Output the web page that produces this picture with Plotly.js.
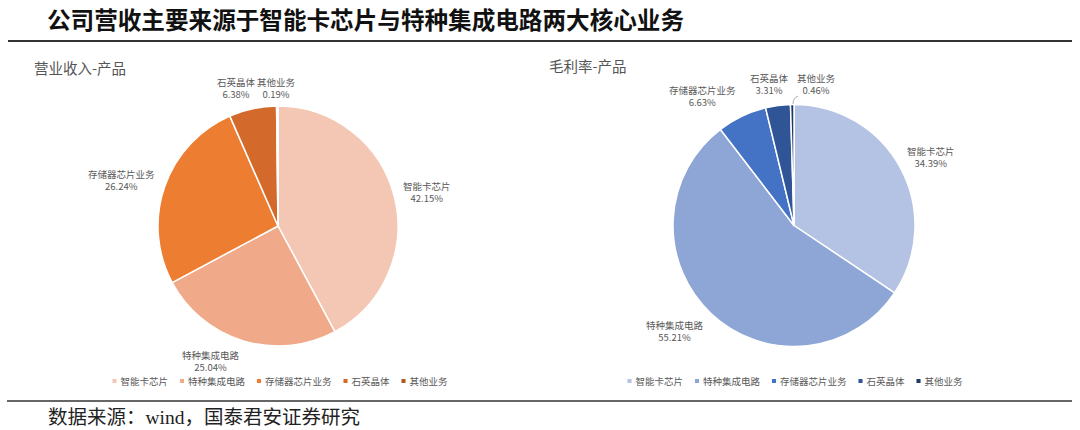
<!DOCTYPE html>
<html>
<head>
<meta charset="utf-8">
<script src="https://cdn.plot.ly/plotly-3.0.1.min.js"></script>
<style>
  html, body { margin: 0; padding: 0; background: #fff; }
  #wrap { position: relative; width: 1080px; height: 430px; }
  #chart { position: absolute; left: 0; top: 0; width: 1080px; height: 430px; }
  #chart2 { position: absolute; left: 540px; top: 0; width: 540px; height: 430px; background: transparent; }
</style>
</head>
<body>
<div id="wrap"><div id="chart"></div><div id="chart2"></div></div>
<script>
// ---- data ----
var categories = ['智能卡芯片', '特种集成电路', '存储器芯片业务', '石英晶体', '其他业务'];
var revenueShare = [42.15, 25.04, 26.24, 6.38, 0.19];   // 营业收入-产品 (%)
var grossShare   = [34.39, 55.21, 6.63, 3.31, 0.46];    // 毛利率-产品 (%)
var chartTitle = '公司营收主要来源于智能卡芯片与特种集成电路两大核心业务';
var leftSubtitle = '营业收入-产品';
var rightSubtitle = '毛利率-产品';
var sourceText = '数据来源：wind，国泰君安证券研究';

// ---- styles / layout helpers ----
var W = 1080, H = 430, W2 = 540, OFF2 = 540;
function px(x) { return x / W; }
function px2(x) { return (x - OFF2) / W2; }
function py(y) { return 1 - y / H; }
var cjk = '"Noto Sans CJK SC", "Noto Sans", sans-serif';
var orangeColors = ['#F4C7B5', '#F0AA8A', '#ED7D31', '#D36A2B', '#B35A1F'];
var blueColors   = ['#B4C2E3', '#8EA6D6', '#4472C4', '#2F5597', '#203864'];
// label block centres (pixels) for each category, in category order
var leftLabelPos  = [[427, 192], [211, 361], [121, 180], [236, 88], [276, 88]];
var rightLabelPos = [[931, 157], [675, 331], [702, 96], [769, 84], [816, 84]];

function pieTrace(values, colors, dom) {
  return {
    type: 'pie',
    labels: categories,
    values: values,
    sort: false,
    direction: 'clockwise',
    rotation: 0,
    textinfo: 'none',
    hovertemplate: '%{label}: %{value:.2f}%<extra></extra>',
    marker: { colors: colors, line: { color: '#ffffff', width: 1.5 } },
    domain: dom,
    showlegend: true
  };
}

var traces1 = [pieTrace(revenueShare, orangeColors, { x: [px(158), px(398)], y: [py(346), py(106)] })];
var traces2 = [pieTrace(grossShare, blueColors, { x: [px2(673), px2(915)], y: [py(347), py(104)] })];

function labelAnns(values, pos, xf) {
  return categories.map(function (c, i) {
    return {
      xref: 'paper', yref: 'paper',
      x: xf(pos[i][0]), y: py(pos[i][1]),
      xanchor: 'center', yanchor: 'middle',
      text: c + '<br>' + values[i].toFixed(2) + '%',
      showarrow: false, align: 'center',
      font: { family: cjk, size: 9.5, color: '#595959' }
    };
  });
}
var annotations1 = labelAnns(revenueShare, leftLabelPos, px);
var annotations2 = labelAnns(grossShare, rightLabelPos, px2);

annotations1.push({
  xref: 'paper', yref: 'paper', x: px(32), y: py(67), xanchor: 'left', yanchor: 'middle',
  text: leftSubtitle, showarrow: false, font: { family: cjk, size: 14.5, color: '#555555' }
});
annotations2.push({
  xref: 'paper', yref: 'paper', x: px2(547), y: py(65), xanchor: 'left', yanchor: 'middle',
  text: rightSubtitle, showarrow: false, font: { family: cjk, size: 14.5, color: '#555555' }
});
annotations1.push({
  xref: 'paper', yref: 'paper', x: px(46), y: py(417), xanchor: 'left', yanchor: 'middle',
  text: sourceText, showarrow: false,
  font: { family: '"Liberation Serif", "Noto Sans CJK SC", serif', size: 19.5, color: '#222222' }
});

var legendFontSize = 9.5;
var legendFont = { family: cjk, size: legendFontSize, color: '#595959' };

var layout1 = {
  width: W, height: H,
  margin: { l: 0, r: 0, t: 0, b: 0 },
  paper_bgcolor: '#ffffff',
  plot_bgcolor: '#ffffff',
  title: {
    text: '<b>' + chartTitle + '</b>',
    xref: 'paper', yref: 'container',
    x: px(47), xanchor: 'left',
    y: py(21), yanchor: 'middle',
    font: { family: cjk, size: 23.6, color: '#111111' }
  },
  legend: {
    orientation: 'h', x: px(280), xanchor: 'center', y: py(381), yanchor: 'middle',
    font: legendFont, bgcolor: 'rgba(0,0,0,0)', traceorder: 'normal'
  },
  shapes: [
    { type: 'line', xref: 'paper', yref: 'paper', x0: px(8), x1: px(1072), y0: py(41), y1: py(41),
      line: { color: '#333333', width: 2 } },
    { type: 'line', xref: 'paper', yref: 'paper', x0: px(7), x1: px(1072), y0: py(401), y1: py(401),
      line: { color: '#333333', width: 1.5 } }
  ],
  annotations: annotations1
};

var layout2 = {
  width: W2, height: H,
  margin: { l: 0, r: 0, t: 0, b: 0 },
  paper_bgcolor: 'rgba(0,0,0,0)',
  plot_bgcolor: 'rgba(0,0,0,0)',
  legend: {
    orientation: 'h', x: px2(795), xanchor: 'center', y: py(381), yanchor: 'middle',
    font: legendFont, bgcolor: 'rgba(0,0,0,0)', traceorder: 'normal'
  },
  shapes: [
    { type: 'path', xref: 'paper', yref: 'paper',
      path: 'M' + px2(798) + ',' + py(96) + ' Q' + px2(793) + ',' + py(98) + ' ' + px2(793) + ',' + py(104),
      line: { color: '#9a9a9a', width: 0.8 } }
  ],
  annotations: annotations2
};

// compact legend entries (small square markers, tight spacing) like the reference
var measureCtx = document.createElement('canvas').getContext('2d');
function textWidth(el) {
  measureCtx.font = legendFontSize + 'px "Noto Sans CJK SC", "Noto Sans", sans-serif';
  return measureCtx.measureText(el.textContent || '').width || 0;
}
function parseTr(el) {
  var m = /translate\(\s*([-\d.e]+)(?:[ ,]+([-\d.e]+))?\s*\)/.exec((el && el.getAttribute('transform')) || '');
  return m ? [parseFloat(m[1]) || 0, parseFloat(m[2]) || 0] : [0, 0];
}
function tidyLegend(gd, centreX) {
  var lg = gd.querySelector('g.legend');
  if (!lg) return;
  var lx = parseTr(lg)[0];
  var items = Array.prototype.slice.call(lg.querySelectorAll('g.traces'));
  if (!items.length) return;
  var y0 = parseTr(items[0])[1];
  var widths = items.map(function (it) {
    var t = it.querySelector('text.legendtext');
    return t ? textWidth(t) : 0;
  });
  var markW = 4, markGap = 4, itemGap = 12;
  var total = widths.reduce(function (a, w) { return a + markW + markGap + w; }, 0) + itemGap * (items.length - 1);
  var x = (centreX - lx) - total / 2;
  items.forEach(function (it, i) {
    it.setAttribute('transform', 'translate(' + x.toFixed(2) + ',' + y0.toFixed(2) + ')');
    it.querySelectorAll('.legendpoints path').forEach(function (p) {
      p.setAttribute('transform', 'translate(' + (markW / 2) + ',0) scale(0.34)');
      p.style.strokeWidth = '0';
    });
    var t = it.querySelector('text.legendtext');
    if (t) t.setAttribute('x', markW + markGap);
    var tog = it.querySelector('rect.legendtoggle');
    if (tog) { tog.setAttribute('x', 0); tog.setAttribute('width', markW + markGap + widths[i]); }
    x += markW + markGap + widths[i] + itemGap;
  });
}

var cfg = { displayModeBar: false, staticPlot: true };
Plotly.newPlot('chart', traces1, layout1, cfg).then(function (gd) { tidyLegend(gd, 280); });
Plotly.newPlot('chart2', traces2, layout2, cfg).then(function (gd) { tidyLegend(gd, 795 - OFF2); });
</script>
</body>
</html>
